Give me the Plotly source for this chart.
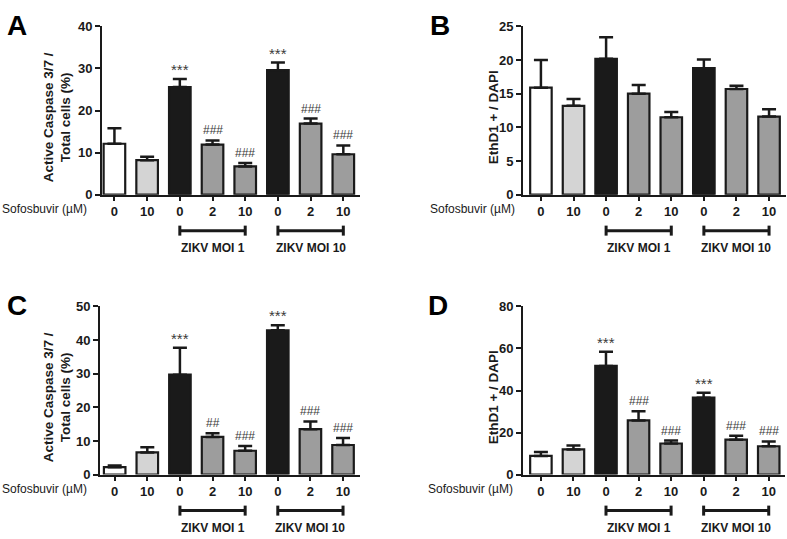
import plotly.graph_objects as go

# x categories: sofosbuvir dose (uM) for each bar
doses = ['0', '10', '0', '2', '10', '0', '2', '10']
groups = ['ZIKV MOI 1', 'ZIKV MOI 10']

# panel A - active caspase 3/7 / total cells (%)
casp_a = [12.1, 8.2, 25.6, 11.9, 6.7, 29.6, 16.9, 9.6]
casp_a_err = [3.7, 0.8, 1.9, 1.0, 0.8, 1.8, 1.2, 2.1]
casp_a_sig = ['', '', '***', '###', '###', '***', '###', '###']

# panel B - EthD1+ / DAPI
eth_b = [15.9, 13.2, 20.2, 15.0, 11.5, 18.8, 15.7, 11.6]
eth_b_err = [4.1, 1.0, 3.2, 1.3, 0.8, 1.3, 0.5, 1.1]
eth_b_sig = ['', '', '', '', '', '', '', '']

# panel C - active caspase 3/7 / total cells (%)
casp_c = [2.2, 6.6, 29.7, 11.2, 7.1, 42.9, 13.5, 8.8]
casp_c_err = [0.5, 1.5, 8.0, 1.1, 1.4, 1.5, 2.3, 2.1]
casp_c_sig = ['', '', '***', '##', '###', '***', '###', '###']

# panel D - EthD1+ / DAPI
eth_d = [8.9, 12.0, 51.7, 25.8, 14.8, 36.6, 16.6, 13.5]
eth_d_err = [1.9, 1.8, 6.8, 4.4, 1.4, 2.3, 1.9, 2.3]
eth_d_sig = ['', '', '***', '###', '###', '***', '###', '###']

W, H = 787, 539
FONT = 'Arial, Liberation Sans, sans-serif'
BLACK = '#1a1a1a'
bar_colors = ['white', '#d4d4d4', BLACK, '#9d9d9d', '#9d9d9d', BLACK, '#9d9d9d', '#9d9d9d']


def px_x(p):
    return p / W


def px_y(p):
    return 1 - p / H


# letter, values, errors, marks, y title, y max, dtick,
# plot box in pixels (left, right, top, bottom), x range, text column x (letter, title, row label)
panels = [
    ('A', casp_a, casp_a_err, casp_a_sig, 'Active Caspase 3/7 /<br>Total cells (%)',
     40, 10, (102, 360, 20, 193), [-0.38, 7.51], (17, 57, 89)),
    ('B', eth_b, eth_b_err, eth_b_sig, 'EthD1 + / DAPI',
     25, 5, (523, 786, 20, 193), [-0.55, 7.52], (440, 493, 517)),
    ('C', casp_c, casp_c_err, casp_c_sig, 'Active Caspase 3/7 /<br>Total cells (%)',
     50, 10, (100, 360, 308, 481), [-0.45, 7.52], (17, 57, 89)),
    ('D', eth_d, eth_d_err, eth_d_sig, 'EthD1 + / DAPI',
     80, 20, (523, 785, 308, 481), [-0.55, 7.50], (438, 493, 515)),
]

fig = go.Figure()
layout = {}
annotations = []
shapes = []

for k, (letter, vals, errs, sig, ytitle, ymax, dtick, box, xr, cols) in enumerate(panels):
    n = '' if k == 0 else str(k + 1)
    xa, ya = 'x' + n, 'y' + n
    left, right, top, bottom = box
    letter_x, title_x, row_x = cols

    fig.add_trace(go.Bar(
        x=list(range(len(vals))), y=vals,
        xaxis=xa, yaxis=ya,
        width=0.66,
        marker=dict(color=bar_colors, line=dict(color=BLACK, width=2.2)),
        error_y=dict(type='data', array=errs, arrayminus=[0] * len(errs),
                     symmetric=False, color=BLACK, thickness=2.5, width=7),
        showlegend=False,
    ))

    layout['xaxis' + n] = dict(
        domain=[px_x(left), px_x(right)], anchor=ya, range=xr,
        tickmode='array', tickvals=list(range(len(doses))), ticktext=doses,
        showline=True, linecolor=BLACK, linewidth=2,
        ticks='outside', ticklen=4, tickwidth=1.5, tickcolor=BLACK,
        tickfont=dict(size=13, color=BLACK, weight='bold'),
        showgrid=False, zeroline=False,
    )
    layout['yaxis' + n] = dict(
        domain=[px_y(bottom), px_y(top)], anchor=xa, range=[0, ymax], dtick=dtick,
        showline=True, linecolor=BLACK, linewidth=2,
        ticks='outside', ticklen=5, tickwidth=2, tickcolor=BLACK,
        tickfont=dict(size=13, color=BLACK, weight='bold'),
        showgrid=False, zeroline=False,
    )

    # significance marks above error bars
    for i, s in enumerate(sig):
        if s:
            star = s.startswith('*')
            annotations.append(dict(
                x=i, y=vals[i] + errs[i], xref=xa, yref=ya, text=s,
                showarrow=False, yanchor='bottom', yshift=-1 if star else 1,
                font=dict(size=15 if star else 12, color='#3a3a3a'),
            ))

    # ZIKV group brackets under the axis (domain refs so they are not clipped)
    span = xr[1] - xr[0]
    for g, (a, b) in enumerate([(2, 4), (5, 7)]):
        da, db = (a - xr[0]) / span, (b - xr[0]) / span
        line = dict(color=BLACK, width=3)
        base = dict(type='line', xref=xa + ' domain', yref=ya + ' domain',
                    ysizemode='pixel', yanchor=0, line=line)
        shapes.append(dict(base, x0=da, x1=db, y0=-36, y1=-36))
        for de in (da, db):
            shapes.append(dict(base, x0=de, x1=de, y0=-31, y1=-41))
        annotations.append(dict(
            x=(a + b) / 2, y=0, xref=xa, yref=ya, yshift=-53, text=groups[g],
            showarrow=False, font=dict(size=12, color=BLACK, weight='bold'),
        ))

    # "Sofosbuvir (uM)" row label
    annotations.append(dict(
        x=px_x(row_x), y=px_y(bottom + 15), xref='paper', yref='paper',
        text='Sofosbuvir (\u00b5M)', showarrow=False, xanchor='right', yanchor='middle',
        font=dict(size=12, color=BLACK),
    ))

    # y axis title
    annotations.append(dict(
        x=px_x(title_x), y=px_y((top + bottom) / 2 + 7), xref='paper', yref='paper',
        text=ytitle, showarrow=False, textangle=-90, xanchor='center', yanchor='middle',
        font=dict(size=13.5, color=BLACK, weight='bold'),
    ))

    # panel letter
    annotations.append(dict(
        x=px_x(letter_x), y=px_y(top - 1), xref='paper', yref='paper',
        text=letter, showarrow=False, xanchor='center', yanchor='middle',
        font=dict(size=28, color='black', weight='bold'),
    ))

fig.update_layout(**layout)
fig.update_layout(
    width=W, height=H,
    margin=dict(l=0, r=0, t=0, b=0),
    paper_bgcolor='white', plot_bgcolor='white',
    font=dict(family=FONT, color=BLACK),
    annotations=annotations, shapes=shapes,
)

# drop the default page margin so the figure sits at the window's corner
fig.write_html("out.html", config={'displayModeBar': False},
               post_script="document.body.style.margin = '0';")
